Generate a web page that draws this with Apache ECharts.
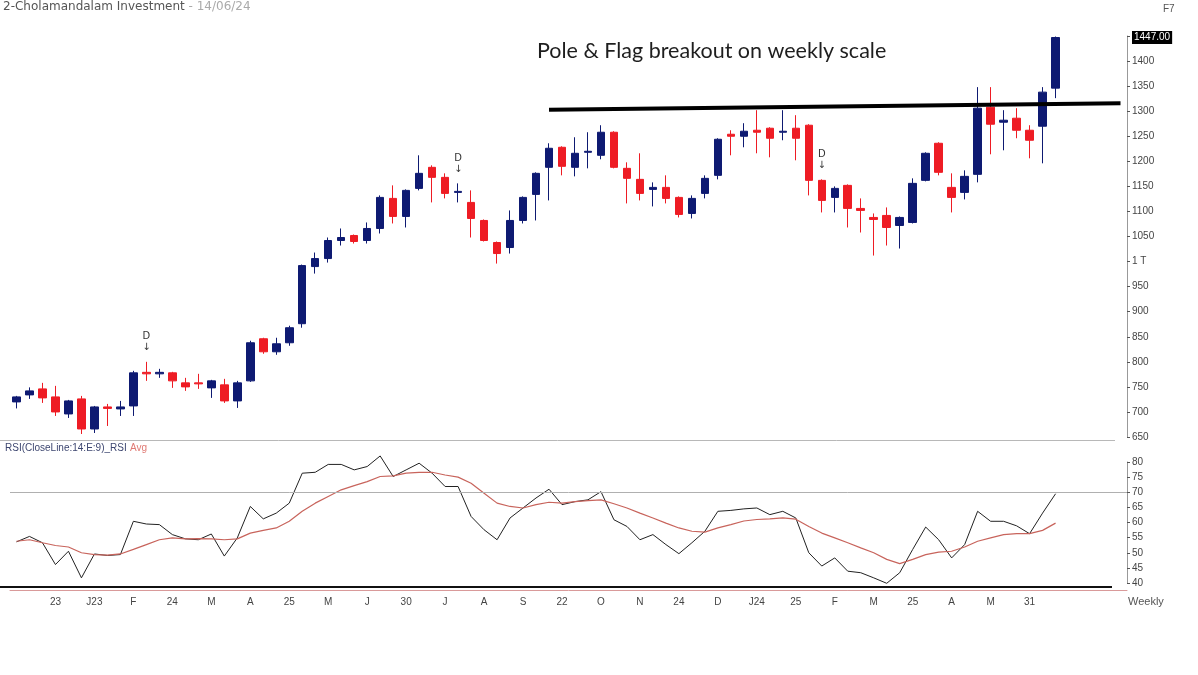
<!DOCTYPE html>
<html><head><meta charset="utf-8">
<script src="https://cdn.jsdelivr.net/npm/echarts@6/dist/echarts.min.js"></script>
<style>html,body{margin:0;padding:0;background:#fff}#c{width:1198px;height:675px}</style>
</head><body><div id="c"></div>
<script>
// ---- data (weekly candles, Dec 2022 - 14 Jun 2024) ----
const weekLabels = [
  '','','','23','','','J23','','','F','','','24','','','M','','','A','','','25','','',
  'M','','','J','','','30','','','J','','','A','','','S','','','22','','','O','','',
  'N','','','24','','','D','','','J24','','','25','','','F','','','M','','','25','','',
  'A','','','M','','','31','',''
];
const opens  = [720,734,746,730,696,726,666,710,706,712,779,776,778,758,758,748,754,722,762,846,820,838,876,990,1006,1042,1052,1042,1066,1126,1090,1146,1188,1168,1138,1118,1082,1038,1028,1082,1134,1188,1228,1188,1218,1212,1258,1186,1164,1144,1148,1128,1096,1136,1172,1254,1250,1262,1266,1258,1266,1272,1162,1128,1152,1106,1088,1092,1072,1078,1162,1236,1148,1138,1174,1308,1278,1286,1262,1270,1346];
const closes = [730,742,728,700,722,666,710,707,710,778,776,779,762,750,756,762,722,758,838,820,836,868,992,1006,1042,1048,1040,1066,1128,1090,1142,1176,1168,1136,1140,1086,1042,1016,1082,1128,1176,1226,1190,1216,1220,1258,1188,1166,1136,1148,1126,1094,1126,1166,1244,1250,1260,1258,1246,1260,1246,1162,1122,1146,1106,1102,1084,1068,1088,1156,1216,1178,1128,1170,1306,1274,1282,1262,1242,1338,1447];
const lows   = [707,726,718,692,688,656,658,672,692,692,762,768,748,742,746,728,718,708,760,816,814,832,868,976,998,1032,1036,1036,1056,1076,1068,1142,1118,1126,1118,1048,1040,996,1016,1076,1082,1122,1172,1170,1186,1204,1186,1116,1122,1110,1116,1088,1086,1126,1164,1212,1228,1216,1208,1242,1202,1132,1098,1098,1068,1058,1012,1032,1026,1076,1160,1172,1098,1124,1158,1214,1222,1246,1206,1196,1326];
const highs  = [732,749,758,752,724,732,712,716,722,782,800,786,780,768,776,764,766,762,842,848,848,872,994,1018,1048,1066,1054,1078,1132,1152,1144,1212,1192,1176,1156,1142,1084,1040,1102,1130,1178,1236,1230,1248,1258,1272,1260,1198,1216,1158,1172,1130,1132,1172,1246,1262,1276,1302,1268,1302,1292,1274,1164,1150,1154,1126,1096,1108,1090,1166,1218,1238,1176,1182,1348,1348,1302,1306,1272,1348,1449];
const rsi    = [53.6,55.4,53.3,46.1,50.5,41.7,49.6,49.1,49.4,60.4,59.5,59.3,56.0,54.6,54.3,56.2,48.9,54.9,65.3,61.2,63.1,66.4,76.3,76.6,79.2,79.2,77.4,78.5,82.0,75.2,77.4,79.6,76.3,71.9,71.9,62.0,57.6,54.3,61.5,64.8,68.1,71.0,65.9,66.9,67.5,70.2,60.9,58.7,54.3,56.0,52.7,49.7,53.3,57.1,63.7,64.0,64.5,64.8,62.6,63.7,61.5,50.0,45.6,48.3,43.9,43.4,41.7,39.9,43.4,51.1,58.5,54.3,48.3,52.7,63.7,60.4,60.4,58.9,56.3,63.1,69.5];
const rsiAvg = [53.8,54.3,53.3,52.4,51.9,50.0,49.4,49.2,49.6,51.1,52.7,54.3,54.9,54.6,54.7,54.6,54.3,54.6,56.5,57.4,58.2,60.4,63.7,66.4,68.6,70.8,72.2,73.5,75.2,75.4,76.3,76.6,76.6,75.7,75.0,73.0,69.7,66.4,65.3,64.8,65.9,66.7,66.4,66.9,67.2,67.5,66.2,64.8,63.1,61.5,59.8,58.2,57.1,56.8,58.2,59.3,60.5,61.0,61.2,61.5,61.1,58.7,56.5,54.9,53.3,51.6,50.0,47.8,46.4,47.8,49.4,50.2,50.5,51.9,53.8,54.9,56.0,56.3,56.3,57.4,59.8];
const signalWeeks = [10, 34, 62];
const breakoutLine = [[41, 1303], [85, 1316]];
const lastPrice = 1447;
const rsiLevel = 70;
const emptyWeeksRight = ['', '', '', '', ''];

// ---- build ----
const categories = weekLabels.concat(emptyWeeksRight);
const candles = opens.map((o, i) => [o, closes[i], lows[i], highs[i]]);
const UP = '#0e1a72', DOWN = '#ee1c24';
const axisLbl = { color: '#444', fontSize: 10, fontFamily: 'Liberation Sans' };

const chart = echarts.init(document.getElementById('c'), null, { renderer: 'canvas' });
chart.setOption({
  animation: false,
  backgroundColor: '#fff',
  grid: [
    { left: 10, right: 71, top: 36, height: 401 },
    { left: 10, right: 71, top: 462, height: 121 }
  ],
  xAxis: [
    { type: 'category', gridIndex: 0, data: categories, boundaryGap: true,
      axisLine: { show: false }, axisTick: { show: false }, axisLabel: { show: false }, splitLine: { show: false } },
    { type: 'category', gridIndex: 1, data: categories, boundaryGap: true, offset: 7,
      axisLine: { lineStyle: { color: '#d99a9a', width: 1 } },
      axisTick: { alignWithLabel: true, length: 5, lineStyle: { color: '#d99a9a' },
                  interval: (i, v) => v !== '' },
      axisLabel: Object.assign({ interval: 0, margin: 7 }, axisLbl),
      splitLine: { show: false } }
  ],
  yAxis: [
    { type: 'value', gridIndex: 0, position: 'right', min: 650, max: 1450, interval: 50,
      axisLine: { show: true, lineStyle: { color: '#999' } },
      axisTick: { show: true, length: 3, lineStyle: { color: '#555' } },
      axisLabel: Object.assign({ margin: 5, formatter: v => v === 1000 ? '1 T' : (v === 1450 ? '' : String(v)) }, axisLbl),
      splitLine: { show: false } },
    { type: 'value', gridIndex: 1, position: 'right', min: 40, max: 80, interval: 5,
      axisLine: { show: true, lineStyle: { color: '#999' } },
      axisTick: { show: true, length: 3, lineStyle: { color: '#555' } },
      axisLabel: Object.assign({ margin: 5 }, axisLbl),
      splitLine: { show: false } }
  ],
  series: [
    { type: 'candlestick', xAxisIndex: 0, yAxisIndex: 0, data: candles, barWidth: 8,
      itemStyle: { color: UP, color0: DOWN, borderColor: UP, borderColor0: DOWN, borderWidth: 1 },
      markLine: { silent: true, symbol: ['none', 'none'], animation: false,
        data: [
          [ { coord: breakoutLine[0], lineStyle: { color: '#000', width: 4, type: 'solid' }, label: { show: false } },
            { coord: breakoutLine[1] } ],
          { yAxis: lastPrice, lineStyle: { color: 'rgba(0,0,0,0)', width: 1 },
            label: { show: true, position: 'end', distance: 5, formatter: lastPrice.toFixed(2),
                     backgroundColor: '#000', color: '#fff', fontSize: 10, fontFamily: 'Liberation Sans', padding: [2, 2, 1, 2] } }
        ] },
      markPoint: { silent: true, symbol: 'circle', symbolSize: 1, itemStyle: { color: 'rgba(0,0,0,0)' },
        label: { show: true, position: 'top', distance: 8, formatter: 'D\n↓', color: '#333', fontSize: 10, lineHeight: 11, fontFamily: 'DejaVu Sans' },
        data: signalWeeks.map(i => ({ coord: [i, highs[i]] })) }
    },
    { type: 'line', xAxisIndex: 1, yAxisIndex: 1, data: rsi, symbol: 'none', clip: false,
      lineStyle: { color: '#222', width: 1 },
      markLine: { silent: true, symbol: ['none', 'none'], label: { show: false },
        lineStyle: { color: '#b0b0b0', width: 1, type: 'solid' }, data: [{ yAxis: rsiLevel }] } },
    { type: 'line', xAxisIndex: 1, yAxisIndex: 1, data: rsiAvg, symbol: 'none', clip: false,
      lineStyle: { color: '#c8645c', width: 1.2 } }
  ],
  graphic: [
    { type: 'text', left: 3, top: 1, style: {
        text: '{a|2-Cholamandalam Investment}{b| - 14/06/24}',
        rich: { a: { fontSize: 12, fill: '#555', fontFamily: 'DejaVu Sans' }, b: { fontSize: 12, fill: '#aaa', fontFamily: 'DejaVu Sans' } } } },
    { type: 'text', left: 1163, top: 4, style: { text: 'F7', fontSize: 10, fill: '#555', fontFamily: 'Liberation Sans' } },
    { type: 'text', left: 537, top: 40, style: { text: 'Pole & Flag breakout on weekly scale', fontSize: 21.5, fill: '#1e1e1e', fontFamily: 'Lato' } },
    { type: 'text', left: 5, top: 442, style: {
        text: '{a|RSI(CloseLine:14:E:9)_RSI} {b|Avg}',
        rich: { a: { fontSize: 10, fill: '#3d4670', fontFamily: 'Liberation Sans' }, b: { fontSize: 10, fill: '#e07a74', fontFamily: 'Liberation Sans' } } } },
    { type: 'text', left: 1128, top: 596, style: { text: 'Weekly', fontSize: 11, fill: '#555', fontFamily: 'Liberation Sans' } },
    { type: 'line', shape: { x1: 0, y1: 440.5, x2: 1115, y2: 440.5 }, style: { stroke: '#b8b8b8', lineWidth: 1 } },
    { type: 'line', shape: { x1: 0, y1: 587, x2: 1112, y2: 587 }, style: { stroke: '#111', lineWidth: 2 } }
  ]
});
</script></body></html>
